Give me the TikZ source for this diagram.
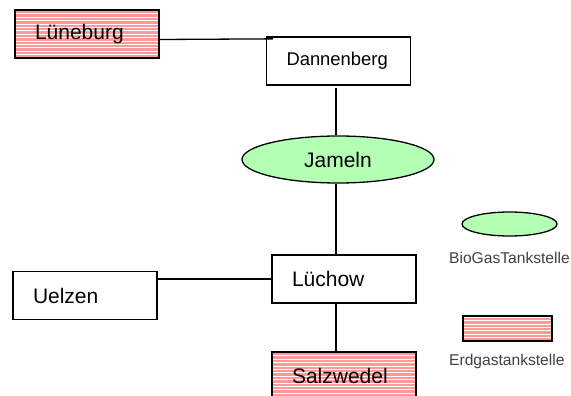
\documentclass[tikz,border=0pt]{standalone}
\usepackage{fontspec}
\setmainfont{Liberation Sans}
\usetikzlibrary{shapes.geometric}
\definecolor{pinkc}{HTML}{FF9999}
\definecolor{greenc}{HTML}{B3FFB3}
\definecolor{legc}{HTML}{404040}
\tikzset{
  hatchfill/.style={path picture={
    \fill[pinkc] (path picture bounding box.south west) rectangle (path picture bounding box.north east);
    \foreach \i in {1,...,30}{
      \draw[white,line width=0.9pt] ([yshift=\i*3.4pt]path picture bounding box.south west) -- ([yshift=\i*3.4pt]path picture bounding box.south east);}
  }},
  citybox/.style={draw=black,line width=1.3pt,rectangle,minimum width=144pt,minimum height=48pt,
    text width=104pt,inner xsep=20pt,inner ysep=0pt,align=left,font=\fontsize{21}{24}\selectfont},
  bioell/.style={draw=black,line width=1.3pt,ellipse,fill=greenc,inner sep=0pt},
  conn/.style={draw=black,line width=1.3pt},
  legtext/.style={anchor=base west,inner sep=0pt,text=legc,font=\fontsize{15.6}{18}\selectfont}
}
\begin{document}
\begin{tikzpicture}[x=1pt,y=-1pt]
\clip (0,0) rectangle (571,396);
\useasboundingbox (0,0) rectangle (571,396);
\node[citybox,hatchfill] (lun) at (87,34) {Lüneburg};
\node[citybox,font=\fontsize{18.4}{22}\selectfont] (dan) at (338.5,61) {Dannenberg};
\node[bioell,minimum width=192pt,minimum height=47pt,font=\fontsize{21}{24}\selectfont] (jam) at (338,159.5) {Jameln};
\node[citybox] (uel) at (85,295.5) {Uelzen};
\node[citybox] (lue) at (344,279) {Lüchow};
\node[citybox,hatchfill] (sal) at (344,376) {Salzwedel};
\node[bioell,minimum width=95pt,minimum height=24pt] (legell) at (509.5,224) {};
\node[draw=black,line width=1.3pt,rectangle,hatchfill,minimum width=89pt,minimum height=25pt,inner sep=0pt] (legrect) at (507.5,328.5) {};
\node[legtext] (legbio) at (449,263) {BioGasTankstelle};
\node[legtext] (legerd) at (449,365) {Erdgastankstelle};
\coordinate (vx) at (336,0);
\coordinate (dj) at ([xshift=7pt,yshift=-2.5pt]dan.north west);
\draw[conn] ([yshift=-5.5pt]lun.east) -- (dj);
\draw[conn] ([yshift=-2pt]vx |- dan.south) -- (vx |- jam.north);
\draw[conn] (vx |- jam.south) -- (vx |- lue.north);
\draw[conn] (vx |- lue.south) -- (vx |- sal.north);
\draw[conn] (lue.west) -- (lue.west -| uel.east);
\end{tikzpicture}
\end{document}
